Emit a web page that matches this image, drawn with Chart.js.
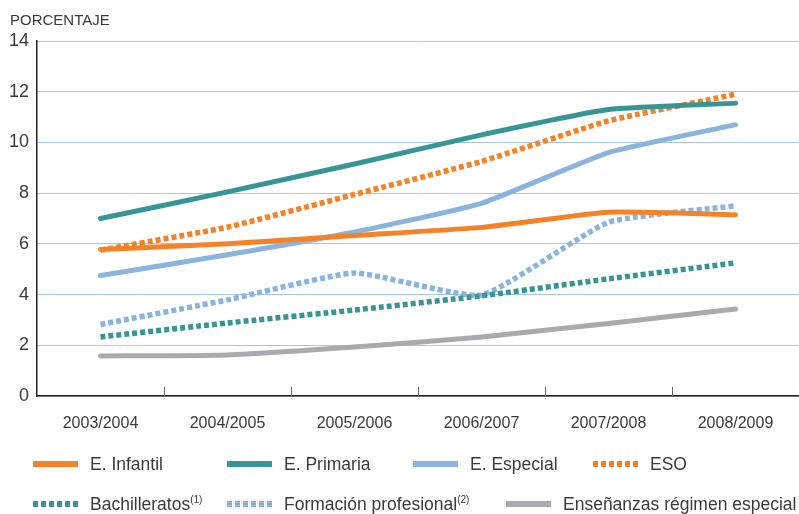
<!DOCTYPE html>
<html>
<head>
<meta charset="utf-8">
<script src="https://cdn.jsdelivr.net/npm/chart.js@4"></script>
<style>
  body { margin: 0; background: #fff; font-family: "Liberation Sans", Arial, sans-serif; color: #3a3a3a; }
  #wrap { position: relative; width: 799px; height: 514px; }
  #title { position: absolute; left: 10px; top: 11px; font-size: 15px; }
  .item { position: absolute; height: 20px; }
  .sample { position: absolute; left: 0; top: 7px; width: 45px; height: 6px; }
  .label { position: absolute; left: 57px; top: 0; font-size: 17.5px; line-height: 20px; white-space: nowrap; }
  .label sup { font-size: 10px; vertical-align: 7px; line-height: 0; }
</style>
</head>
<body>
<div id="wrap">
  <div id="title">PORCENTAJE</div>
  <canvas id="chart" width="799" height="514"></canvas>
  <div id="legend"></div>
</div>
<script>
const years = ['2003/2004', '2004/2005', '2005/2006', '2006/2007', '2007/2008', '2008/2009'];
const yTicks = [0, 2, 4, 6, 8, 10, 12, 14];

const infantil = [5.78, 6.0, 6.33, 6.65, 7.25, 7.15];
const primaria = [7.0, 8.05, 9.15, 10.3, 11.3, 11.55];
const especial = [4.75, 5.57, 6.47, 7.6, 9.6, 10.7];
const eso = [5.75, 6.66, 7.95, 9.25, 10.85, 11.9];
const bachilleratos = [2.33, 2.88, 3.39, 3.95, 4.62, 5.25];
const formacion = [2.82, 3.79, 4.85, 3.98, 6.85, 7.5];
const regimenEspecial = [1.58, 1.62, 1.93, 2.33, 2.86, 3.43];

const seriesNames = ['E. Infantil', 'E. Primaria', 'E. Especial', 'ESO', 'Bachilleratos', 'Formación profesional', 'Enseñanzas régimen especial'];
const seriesNotes = ['', '', '', '', '(1)', '(2)', ''];
const seriesValues = [infantil, primaria, especial, eso, bachilleratos, formacion, regimenEspecial];

const ORANGE = '#f58226';
const TEAL = '#389595';
const LIGHTBLUE = '#8ab4dc';
const GREY = '#aaaaae';
const colors = [ORANGE, TEAL, LIGHTBLUE, ORANGE, TEAL, LIGHTBLUE, GREY];
const dashed = [false, false, false, true, true, true, false];

// legend spots (left, top of each item)
const legendSpots = [[33, 454], [227, 454], [413, 454], [593, 454], [33, 494], [227, 494], [506, 494]];

const datasets = seriesNames.map(function (name, i) {
  return {
    label: name,
    data: seriesValues[i],
    borderColor: colors[i],
    backgroundColor: colors[i],
    borderWidth: dashed[i] ? 5.5 : 5,
    borderDash: dashed[i] ? [5, 3] : [],
    borderCapStyle: dashed[i] ? 'butt' : 'round',
    borderJoinStyle: 'round',
    tension: 0.15,
    pointRadius: 0,
    fill: false
  };
});

// short category ticks pointing up from the x axis
const boundaryTicks = {
  id: 'boundaryTicks',
  afterDraw(chart) {
    const ctx = chart.ctx;
    const x = chart.scales.x;
    const bottom = chart.chartArea.bottom;
    ctx.save();
    ctx.strokeStyle = '#666';
    ctx.lineWidth = 1;
    for (let i = 1; i < years.length; i++) {
      const px = Math.round((x.getPixelForValue(i - 1) + x.getPixelForValue(i)) / 2) + 0.5;
      ctx.beginPath();
      ctx.moveTo(px, bottom - 9);
      ctx.lineTo(px, bottom);
      ctx.stroke();
    }
    ctx.restore();
  }
};

const ctx = document.getElementById('chart').getContext('2d');
new Chart(ctx, {
  type: 'line',
  data: { labels: years, datasets: datasets },
  options: {
    responsive: false,
    animation: false,
    layout: { padding: { top: 41, right: 0, bottom: 78, left: 0 } },
    plugins: { legend: { display: false }, tooltip: { enabled: false } },
    scales: {
      x: {
        offset: true,
        afterFit: function (scale) { scale.height = 40; },
        grid: { display: false },
        border: { display: true, color: '#222', width: 1.5 },
        ticks: { color: '#3a3a3a', padding: 10, maxRotation: 0, font: { family: 'Liberation Sans', size: 16 } }
      },
      y: {
        min: 0,
        max: 14,
        afterFit: function (scale) { scale.width = 37; },
        afterBuildTicks: function (scale) { scale.ticks = yTicks.map(v => ({ value: v })); },
        grid: { color: '#a3c6e6', lineWidth: 1, drawTicks: false },
        border: { display: true, color: '#222', width: 1.5 },
        ticks: { color: '#3a3a3a', padding: 8, font: { family: 'Liberation Sans', size: 18 } }
      }
    }
  },
  plugins: [boundaryTicks]
});

// html legend
const legend = document.getElementById('legend');
seriesNames.forEach(function (name, i) {
  const item = document.createElement('div');
  item.className = 'item';
  item.style.left = legendSpots[i][0] + 'px';
  item.style.top = legendSpots[i][1] + 'px';
  const sample = document.createElement('div');
  sample.className = 'sample';
  sample.style.background = dashed[i]
    ? 'repeating-linear-gradient(to right, ' + colors[i] + ' 0 5px, transparent 5px 8px)'
    : colors[i];
  const label = document.createElement('div');
  label.className = 'label';
  label.textContent = name;
  if (seriesNotes[i]) {
    const sup = document.createElement('sup');
    sup.textContent = seriesNotes[i];
    label.appendChild(sup);
  }
  item.appendChild(sample);
  item.appendChild(label);
  legend.appendChild(item);
});
</script>
</body>
</html>
